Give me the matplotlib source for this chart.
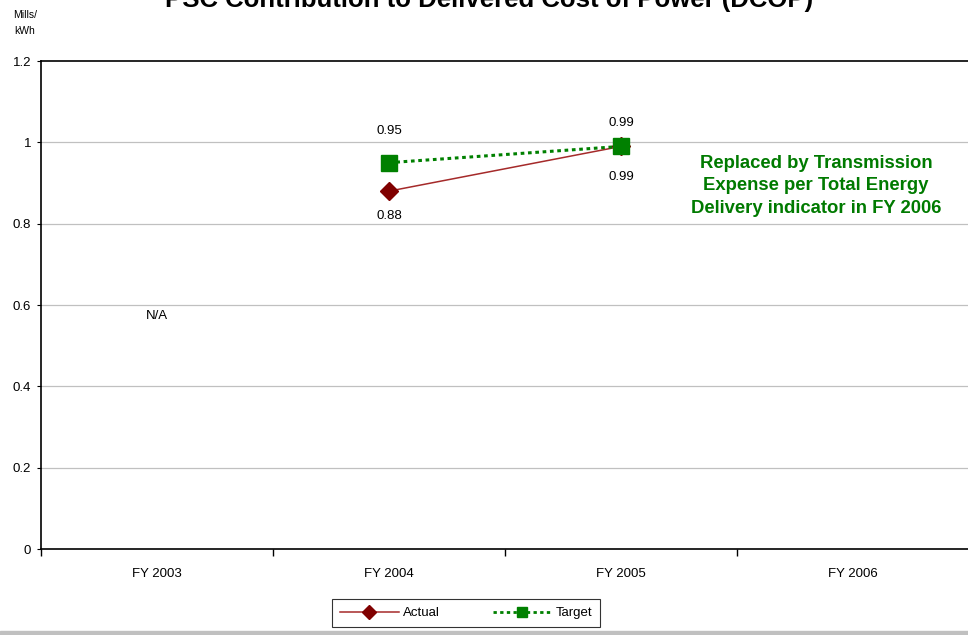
import matplotlib
matplotlib.use("Agg")
import matplotlib.pyplot as plt
from matplotlib.lines import Line2D

plt.rcParams['font.family'] = ['Liberation Sans', 'DejaVu Sans']

categories = ["FY 2003", "FY 2004", "FY 2005", "FY 2006"]
actual = [None, 0.88, 0.99, None]
target = [None, 0.95, 0.99, None]
actual_labels = ["", "0.88", "0.99", ""]
target_labels = ["", "0.95", "0.99", ""]
yticks = [0, 0.2, 0.4, 0.6, 0.8, 1.0, 1.2]
ytick_labels = ["0", "0.2", "0.4", "0.6", "0.8", "1", "1.2"]

# label offsets (points) above the target markers / below the actual markers
target_offsets = [0, 23, 17, 0]
actual_offsets = [0, -18, -22, 0]

W, H = 968, 635
fig = plt.figure(figsize=(W / 100, H / 100), dpi=100)
ax = fig.add_axes([41 / W, (H - 549) / H, (969 - 41) / W, (549 - 61) / H])

x = list(range(len(categories)))
ax.set_xlim(-0.5, len(categories) - 0.5)
ax.set_ylim(0, 1.2)

for y in yticks[1:-1]:
    ax.axhline(y, color="#c0c0c0", lw=0.9, zorder=0)

ax_pts = [(i, v) for i, v in zip(x, actual) if v is not None]
tg_pts = [(i, v) for i, v in zip(x, target) if v is not None]

ax.plot([p[0] for p in ax_pts], [p[1] for p in ax_pts], color="#a52a2a", lw=1.1,
        marker="D", ms=9, mfc="#800000", mec="#800000", zorder=3)
ax.plot([p[0] for p in tg_pts], [p[1] for p in tg_pts], color="#008000", lw=2.2,
        ls=(0, (1.2, 1.2)), marker="s", ms=11, mfc="#008000", mec="#008000", zorder=4)

for i, (v, lab) in enumerate(zip(target, target_labels)):
    if v is not None:
        ax.annotate(lab, (i, v), xytext=(0, target_offsets[i]), textcoords="offset points",
                    ha="center", va="center", fontsize=9.5)
for i, (v, lab) in enumerate(zip(actual, actual_labels)):
    if v is not None:
        ax.annotate(lab, (i, v), xytext=(0, actual_offsets[i]), textcoords="offset points",
                    ha="center", va="center", fontsize=9.5)

ax.text(0, 0.573, "N/A", ha="center", va="center", fontsize=9.5)

ax.text(2.84, 0.893, "Replaced by Transmission\nExpense per Total Energy\nDelivery indicator in FY 2006",
        ha="center", va="center", fontsize=13.3, fontweight="bold", color="#007a00",
        linespacing=1.4)

ax.set_yticks(yticks)
ax.set_yticklabels(ytick_labels, fontsize=9.5)
ax.set_xticks(x)
ax.set_xticklabels(categories, fontsize=9.5)
ax.tick_params(axis="x", length=0, pad=14)
ax.tick_params(axis="y", length=3, direction="out", pad=4)
ax.set_xticks([i + 0.5 for i in range(-1, len(categories))], minor=True)
ax.tick_params(axis="x", which="minor", length=5, direction="out", width=1)

for s in ["left", "bottom", "top"]:
    ax.spines[s].set_color("black")
    ax.spines[s].set_linewidth(1.2)
ax.spines["right"].set_visible(False)

fig.text(25 / W, 1 - 15 / H, "Mills/", ha="center", va="center", fontsize=7.5)
fig.text(25 / W, 1 - 31 / H, "kWh", ha="center", va="center", fontsize=7.5)

fig.text(489 / W, 1 - 0 / H, "PSC Contribution to Delivered Cost of Power (DCOP)",
         ha="center", va="center", fontsize=18.5, fontweight="bold")

handles = [
    Line2D([], [], color="#a52a2a", lw=1.1, marker="D", ms=7, mfc="#800000", mec="#800000"),
    Line2D([], [], color="#008000", lw=2.0, ls=(0, (1.2, 1.2)), marker="s", ms=7,
           mfc="#008000", mec="#008000"),
]
leg = fig.legend(handles, ["Actual", "Target"], loc="center",
                 bbox_to_anchor=(466 / W, 1 - 613 / H), ncol=2, fontsize=9.5,
                 frameon=True, fancybox=False, edgecolor="black", handlelength=4.5,
                 columnspacing=4, handletextpad=0.3, borderpad=0.6)
leg.get_frame().set_linewidth(0.8)

fig.patches.append(plt.Rectangle((0, 0), 1, 4 / H, transform=fig.transFigure,
                                 color="#c0c0c0", zorder=0))

fig.savefig("out.png", dpi=100)
